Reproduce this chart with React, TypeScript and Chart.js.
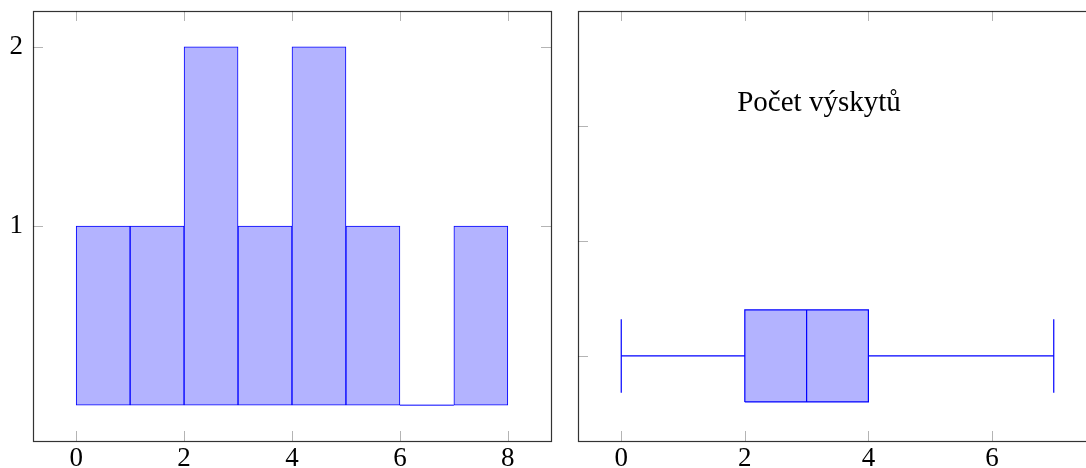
import React, { useEffect, useRef } from "react";
import { Chart, registerables } from "chart.js";

Chart.register(...registerables);

// ---- Data ----
const BIN_EDGES = [0, 1, 2, 3, 4, 5, 6, 7, 8];
const BIN_COUNTS = [1, 1, 2, 1, 2, 1, 0, 1];
const HIST_X_TICKS = [0, 2, 4, 6, 8];
const HIST_Y_TICKS = [1, 2];

const BOX_LOW = 0;
const BOX_Q1 = 2;
const BOX_MEDIAN = 3;
const BOX_Q3 = 4;
const BOX_HIGH = 7;
const BOX_X_TICKS = [0, 2, 4, 6];
const BOX_Y_TICKS = [1, 2, 3];
const BOX_TITLE = "Počet výskytů";

// ---- Styles ----
const FONT = "'Liberation Serif', 'DejaVu Serif', serif";
const BLUE = "#0000ff";
const FILL = "rgb(179,179,255)";
const TICK_LEN = 10;

const framePlugin = {
  id: "pgfFrame",
  afterDatasetsDraw(chart: any) {
    const { ctx, chartArea: a, scales } = chart;
    const x = scales.x;
    const y = scales.y;
    ctx.save();
    ctx.strokeStyle = "#b4b4b4";
    ctx.lineWidth = 1;
    ctx.beginPath();
    x.ticks.forEach((t: any) => {
      const px = Math.round(x.getPixelForValue(t.value)) + 0.5;
      ctx.moveTo(px, a.bottom);
      ctx.lineTo(px, a.bottom - TICK_LEN);
      ctx.moveTo(px, a.top);
      ctx.lineTo(px, a.top + TICK_LEN);
    });
    y.ticks.forEach((t: any) => {
      const py = Math.round(y.getPixelForValue(t.value)) + 0.5;
      ctx.moveTo(a.left, py);
      ctx.lineTo(a.left + TICK_LEN, py);
      ctx.moveTo(a.right, py);
      ctx.lineTo(a.right - TICK_LEN, py);
    });
    ctx.stroke();
    ctx.strokeStyle = "rgba(0,0,0,0.8)";
    ctx.lineWidth = 1.2;
    ctx.strokeRect(
      Math.round(a.left) + 0.5,
      Math.round(a.top) + 0.5,
      Math.round(a.right - a.left),
      Math.round(a.bottom - a.top)
    );
    ctx.restore();
  },
};

const titlePlugin = {
  id: "boxTitle",
  afterDatasetsDraw(chart: any) {
    const { ctx, scales } = chart;
    ctx.save();
    ctx.fillStyle = "#000";
    ctx.font = `29px ${FONT}`;
    ctx.textAlign = "center";
    ctx.textBaseline = "middle";
    ctx.fillText(BOX_TITLE, scales.x.getPixelForValue(3.2), scales.y.getPixelForValue(3.2));
    ctx.restore();
  },
};

function axisTicks(values: number[]) {
  return (scale: any) => {
    scale.ticks = values.map((v) => ({ value: v }));
  };
}

function seg(points: [number, number][], extra: any = {}) {
  return {
    type: "scatter",
    data: points.map(([x, y]) => ({ x, y })),
    showLine: true,
    pointRadius: 0,
    borderColor: BLUE,
    borderWidth: 1.2,
    fill: false,
    ...extra,
  };
}

export default function App() {
  const leftRef = useRef<HTMLCanvasElement>(null);
  const rightRef = useRef<HTMLCanvasElement>(null);

  useEffect(() => {
    const prevHtml = document.documentElement.style.overflow;
    document.documentElement.style.overflow = "hidden";

    const histData = BIN_COUNTS.map((c, i) => ({
      x: (BIN_EDGES[i] + BIN_EDGES[i + 1]) / 2,
      y: c,
    }));
    const emptyBins: any[] = [];
    BIN_COUNTS.forEach((c, i) => {
      if (c === 0) {
        emptyBins.push(seg([[BIN_EDGES[i], 0], [BIN_EDGES[i + 1], 0]], { borderWidth: 1 }));
      }
    });

    const tickFont = { family: FONT, size: 27 };
    const fitX = (s: any) => { s.height = 27; s.paddingLeft = 0; s.paddingRight = 0; };

    const left = new Chart(leftRef.current as HTMLCanvasElement, {
      type: "bar",
      data: {
        datasets: [
          {
            type: "bar",
            data: histData,
            backgroundColor: FILL,
            borderColor: BLUE,
            borderWidth: 1,
            borderSkipped: false,
            barPercentage: 1,
            categoryPercentage: 1,
          } as any,
          ...emptyBins,
        ],
      },
      options: {
        animation: false,
        responsive: false,
        layout: { padding: { top: 11, right: 9, left: 0, bottom: 0 } },
        plugins: { legend: { display: false }, tooltip: { enabled: false } },
        scales: {
          x: {
            type: "linear",
            offset: false,
            min: -0.8,
            max: 8.8,
            afterBuildTicks: axisTicks(HIST_X_TICKS),
            afterFit: fitX,
            grid: { display: false, drawTicks: false, offset: false },
            border: { display: false },
            ticks: { font: tickFont, color: "#000", padding: 2, maxRotation: 0 },
          },
          y: {
            type: "linear",
            min: -0.2,
            max: 2.2,
            afterBuildTicks: axisTicks(HIST_Y_TICKS),
            afterFit: (s: any) => { s.width = 33; s.paddingTop = 0; s.paddingBottom = 0; },
            grid: { display: false, drawTicks: false },
            border: { display: false },
            ticks: { font: tickFont, color: "#000", padding: 10 },
          },
        },
      } as any,
      plugins: [framePlugin],
    });

    const P = 1;
    const BH = 0.4;
    const WH = 0.32;
    const right = new Chart(rightRef.current as HTMLCanvasElement, {
      type: "scatter",
      data: {
        datasets: [
          seg([[BOX_MEDIAN, P - BH], [BOX_MEDIAN, P + BH]]),
          seg([[BOX_LOW, P], [BOX_Q1, P]]),
          seg([[BOX_Q3, P], [BOX_HIGH, P]]),
          seg([[BOX_LOW, P - WH], [BOX_LOW, P + WH]]),
          seg([[BOX_HIGH, P - WH], [BOX_HIGH, P + WH]]),
          seg(
            [[BOX_Q1, P - BH], [BOX_Q3, P - BH], [BOX_Q3, P + BH], [BOX_Q1, P + BH], [BOX_Q1, P - BH]],
            { fill: "shape", backgroundColor: FILL }
          ),
        ] as any,
      },
      options: {
        animation: false,
        responsive: false,
        layout: { padding: { top: 11, right: 9, left: 0, bottom: 0 } },
        plugins: { legend: { display: false }, tooltip: { enabled: false } },
        scales: {
          x: {
            type: "linear",
            min: -0.7,
            max: 7.7,
            afterBuildTicks: axisTicks(BOX_X_TICKS),
            afterFit: fitX,
            grid: { display: false, drawTicks: false },
            border: { display: false },
            ticks: { font: tickFont, color: "#000", padding: 2, maxRotation: 0 },
          },
          y: {
            type: "linear",
            min: 0.26,
            max: 4.0,
            afterBuildTicks: axisTicks(BOX_Y_TICKS),
            afterFit: (s: any) => { s.width = 18; s.paddingTop = 0; s.paddingBottom = 0; },
            grid: { display: false, drawTicks: false },
            border: { display: false },
            ticks: { display: false },
          },
        },
      } as any,
      plugins: [framePlugin, titlePlugin],
    });

    return () => {
      left.destroy();
      right.destroy();
      document.documentElement.style.overflow = prevHtml;
    };
  }, []);

  return (
    <div
      style={{
        position: "fixed",
        left: 0,
        top: 0,
        width: 1086,
        height: 468,
        background: "#fff",
      }}
    >
      <canvas ref={leftRef} width={560} height={468} style={{ position: "absolute", left: 0, top: 0 }} />
      <canvas ref={rightRef} width={546} height={468} style={{ position: "absolute", left: 560, top: 0 }} />
    </div>
  );
}
